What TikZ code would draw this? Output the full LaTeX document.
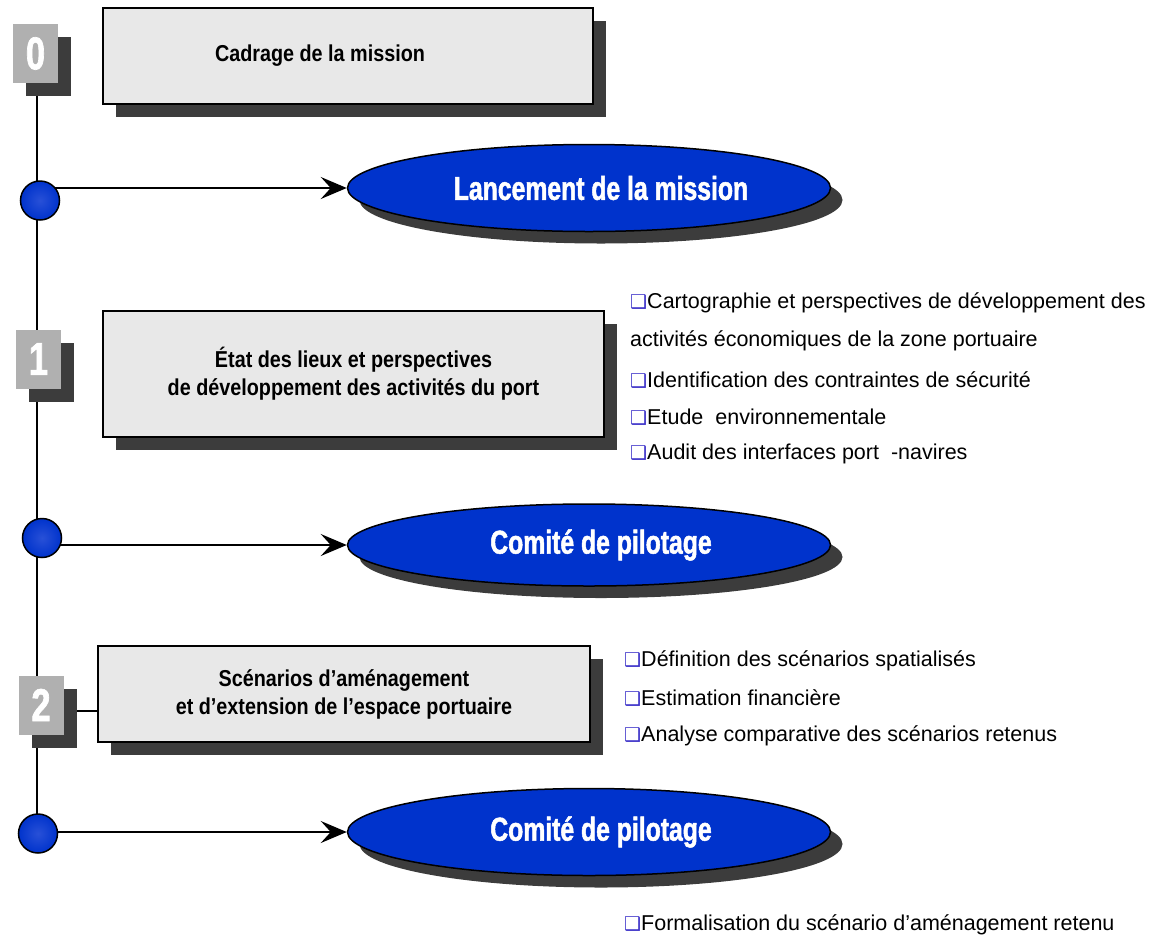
\documentclass[tikz,border=0pt]{standalone}
\usepackage{fontspec}
\setmainfont{Liberation Sans}
\newfontfamily\narrowfont{Liberation Sans}[FakeStretch=0.86]
\newfontfamily\impactfont{Liberation Sans}[FakeStretch=0.75, FakeBold=1.5]
\newfontfamily\symbfont{DejaVu Sans}
\usetikzlibrary{shapes.geometric,shadows,arrows.meta,backgrounds}

\definecolor{boxgray}{RGB}{232,232,232}
\definecolor{badgegray}{RGB}{176,176,176}
\definecolor{shadowgray}{RGB}{60,60,60}
\definecolor{jalonblue}{RGB}{0,51,204}
\definecolor{jalonlight}{RGB}{40,80,215}
\definecolor{bulletblue}{RGB}{60,50,200}

\newcommand{\puce}{{\symbfont\fontsize{19}{19}\selectfont\textcolor{bulletblue}{❑}}}

\tikzset{
  phase/.style={rectangle, draw=black, line width=2.2pt, fill=boxgray, minimum width=490pt, minimum height=96pt, align=center, font=\narrowfont\bfseries\fontsize{23}{28}\selectfont, drop shadow={shadow xshift=13pt, shadow yshift=-13pt, fill=shadowgray, opacity=1}},
  badge/.style={rectangle, fill=badgegray, minimum width=45pt, minimum height=59pt, inner sep=0pt, text=white, font=\impactfont\bfseries\fontsize{46}{46}\selectfont, drop shadow={shadow xshift=13pt, shadow yshift=-13pt, fill=shadowgray, opacity=1}},
  jalon/.style={circle, draw=black, line width=1.5pt, minimum size=39pt, inner sep=0pt, inner color=jalonlight, outer color=jalonblue},
  comite/.style={ellipse, draw=black, line width=1.5pt, fill=jalonblue, minimum width=483pt, minimum height=87pt, inner sep=0pt, text=white, font=\impactfont\bfseries\fontsize{33}{33}\selectfont, drop shadow={shadow xshift=12pt, shadow yshift=-12pt, fill=shadowgray, opacity=1}},
  tache/.style={anchor=west, inner sep=0pt, font=\fontsize{21.5}{24}\selectfont},
  spine/.style={line width=1.8pt},
  fleche/.style={line width=2pt, -{Stealth[length=26pt, width=22pt, inset=10pt]}},
}

\begin{document}
\begin{tikzpicture}[x=1pt, y=-1pt]
    \useasboundingbox (0,0) rectangle (1151,938);

    % phases
    \node[badge] (b0) at (35.5,53.5) {0};
    \node[badge] (b1) at (38.5,359) {1};
    \node[badge] (b2) at (41,705) {2};
    \node[phase] (box0) at (348,56) {Cadrage de la mission\hspace*{56pt}};
    \node[phase, minimum width=501pt, minimum height=126pt] (box1) at (353.5,374) {État des lieux et perspectives\\de développement des activités du port};
    \node[phase, minimum width=492pt] (box2) at (344,694) {Scénarios d’aménagement\\et d’extension de l’espace portuaire};

    % jalons
    \node[jalon] (c1) at (40,200.5) {};
    \node[jalon] (c2) at (42,538) {};
    \node[jalon] (c3) at (38,833.5) {};
    \node[comite] (e1) at (589,188) {\hspace*{24pt}Lancement de la mission};
    \node[comite, minimum height=82pt] (e2) at (589,545) {\hspace*{24pt}Comité de pilotage};
    \node[comite] (e3) at (589,832) {\hspace*{24pt}Comité de pilotage};

    % taches
    \foreach[count=\i] \t/\y in {\puce Cartographie et perspectives de développement des/303,
        activités économiques de la zone portuaire/341,
        \puce Identification des contraintes de sécurité/380,
        \puce Etude\ \ environnementale/417,
        \puce Audit des interfaces port\ \ -navires/454}
        \node[tache] (t\i) at (630,\y) {\t};
    \foreach[count=\i] \t/\y in {\puce Définition des scénarios spatialisés/661,
        \puce Estimation financière/698,
        \puce Analyse comparative des scénarios retenus/736,
        \puce Formalisation du scénario d’aménagement retenu/925}
        \node[tache] (s\i) at (624,\y) {\t};

    \begin{scope}[on background layer]
        \coordinate (spinetop) at (37,80);
        \draw[spine] (spinetop) -- (spinetop |- c3);
        \draw[spine] ([yshift=-6pt]b2.east) -- ([yshift=-6pt]b2.east -| box2.west);
        \draw[fleche] (c1.center |- e1.west) -- (e1.west);
        \draw[fleche] (c2.center |- e2.west) -- (e2.west);
        \draw[fleche] (c3.center |- e3.west) -- (e3.west);
    \end{scope}
\end{tikzpicture}
\end{document}
